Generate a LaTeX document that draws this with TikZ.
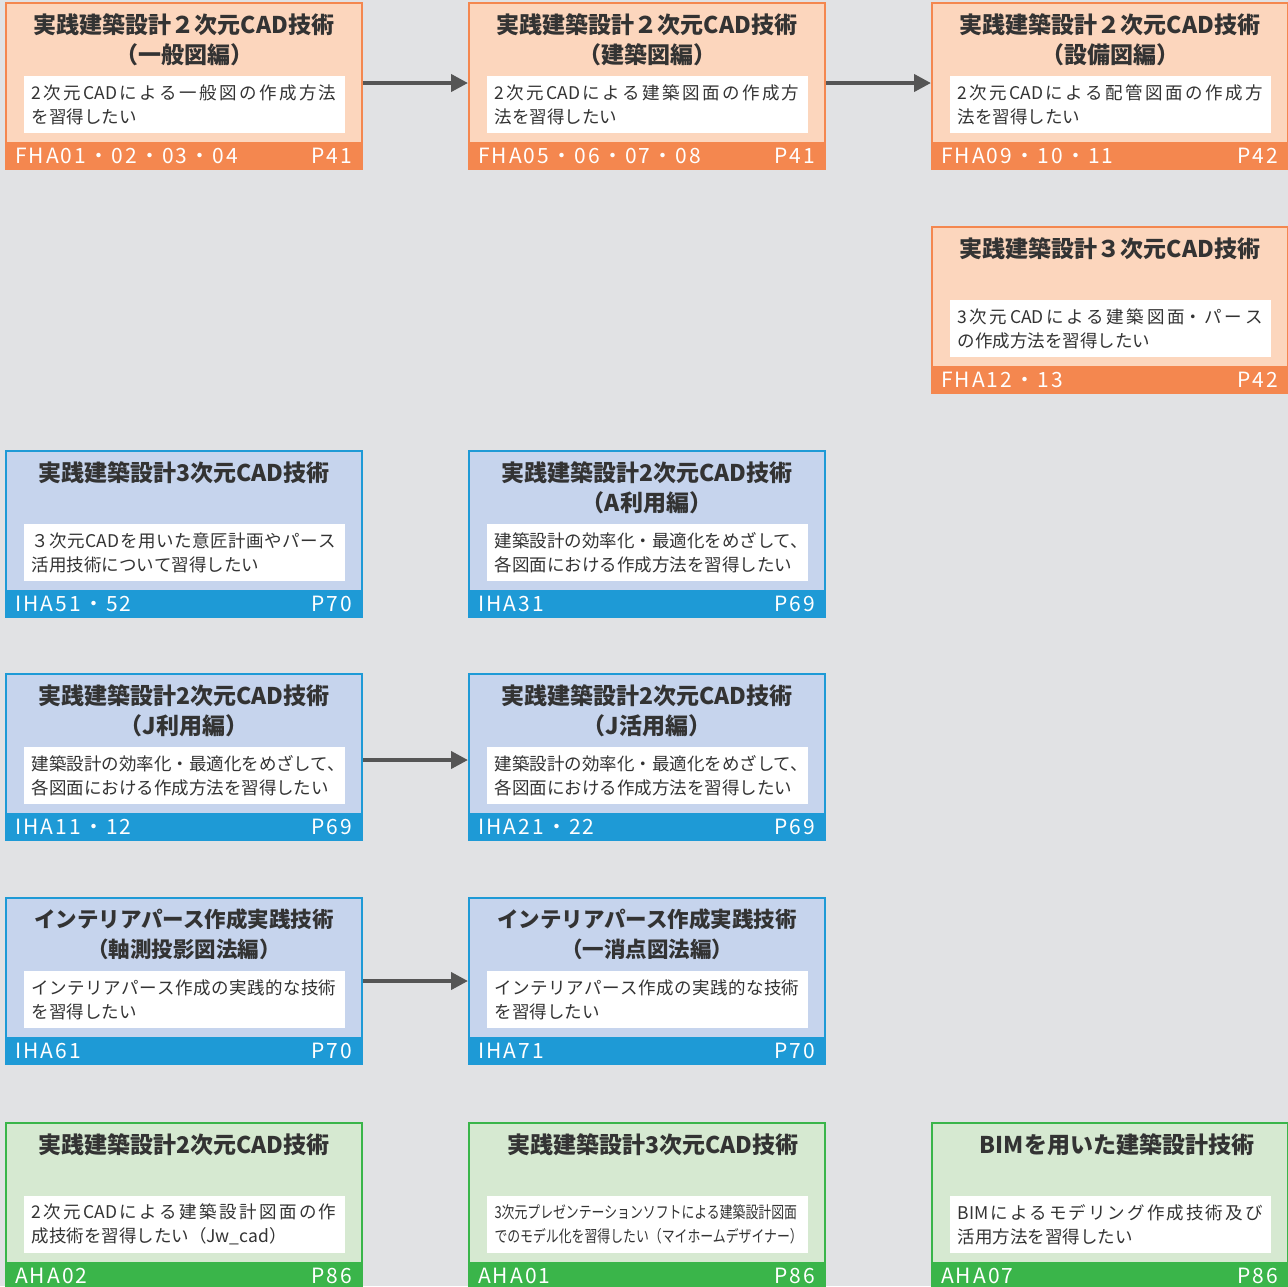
\documentclass[tikz,border=0pt]{standalone}
\usepackage{fontspec}
\setmainfont{Noto Sans CJK JP}
\newfontfamily\narrowfont[FakeStretch=0.78]{Noto Sans CJK JP}
\newfontfamily\barfont[LetterSpace=10]{Noto Sans CJK JP}
\usepackage{xcolor}
\usetikzlibrary{positioning, arrows.meta}

\XeTeXlinebreaklocale "ja"
\XeTeXlinebreakskip=0pt plus 6pt
\tolerance=10000
\hbadness=10000
\hfuzz=20pt

\definecolor{bgGray}{HTML}{E1E2E4}
\definecolor{fhOrange}{HTML}{F4874F}
\definecolor{fhLight}{HTML}{FCD6BD}
\definecolor{ihBlue}{HTML}{1E9AD6}
\definecolor{ihLight}{HTML}{C6D4ED}
\definecolor{ahGreen}{HTML}{3AB54A}
\definecolor{ahLight}{HTML}{D6E9D1}
\definecolor{textDark}{HTML}{333333}
\definecolor{arrowGray}{HTML}{555555}

\begin{document}
\begin{tikzpicture}[x=1pt, y=1pt]

			% --- STYLES ---
			\tikzstyle{card} = [rectangle, minimum width=356pt, minimum height=166pt, line width=2pt, inner sep=0pt]
			\tikzstyle{fhcard} = [card, draw=fhOrange, fill=fhLight]
			\tikzstyle{ihcard} = [card, draw=ihBlue, fill=ihLight]
			\tikzstyle{ahcard} = [card, draw=ahGreen, fill=ahLight]
			\tikzstyle{bar} = [rectangle, minimum width=358pt, minimum height=28pt, inner sep=0pt, anchor=south]
			\tikzstyle{fhbar} = [bar, fill=fhOrange]
			\tikzstyle{ihbar} = [bar, fill=ihBlue]
			\tikzstyle{ahbar} = [bar, fill=ahGreen]
			\tikzstyle{cardtitle} = [anchor=north, align=center, inner sep=0pt, text=textDark, font=\bfseries\fontsize{23}{30}\selectfont]
			\tikzstyle{kanatitle} = [cardtitle, font=\bfseries\fontsize{21.5}{30}\selectfont]
			\tikzstyle{cardtext} = [anchor=north, fill=white, minimum width=321pt, minimum height=57pt, text width=305pt, inner xsep=8pt, inner ysep=0pt, align=justify, text=textDark, font=\fontsize{17.5}{24}\selectfont]
			\tikzstyle{barcode} = [anchor=west, inner sep=0pt, text=white, font=\barfont\fontsize{21}{21}\selectfont]
			\tikzstyle{barpage} = [anchor=east, inner sep=0pt, text=white, font=\barfont\fontsize{21}{21}\selectfont]
			\tikzstyle{arrow} = [line width=4pt, draw=arrowGray, -{Triangle[length=17pt, width=17pt]}]

			% --- CANVAS ---
			\useasboundingbox (0,0) rectangle (1288,-1286);
			\fill [bgGray] (0,0) rectangle (1288,-1286);

			% --- ROW 1 (FHA) ---
			\node (fha01) [fhcard] at (184,-86) {};
			\node (fha01title) [cardtitle] at ([yshift=-11pt]fha01.north) {実践建築設計２次元CAD技術\\（一般図編）};
			\node (fha01text) [cardtext] at ([yshift=-74pt]fha01.north) {2次元CADによる一般図の作成方法\linebreak を習得したい};
			\node (fha01bar) [fhbar] at (fha01.south) {};
			\node (fha01code) [barcode] at ([xshift=10pt]fha01bar.west) {FHA01・02・03・04};
			\node (fha01page) [barpage] at ([xshift=-11pt]fha01bar.east) {P41};

			\node (fha05) [fhcard, right=105pt of fha01] {};
			\node (fha05title) [cardtitle] at ([yshift=-11pt]fha05.north) {実践建築設計２次元CAD技術\\（建築図編）};
			\node (fha05text) [cardtext] at ([yshift=-74pt]fha05.north) {2次元CADによる建築図面の作成方\linebreak 法を習得したい};
			\node (fha05bar) [fhbar] at (fha05.south) {};
			\node (fha05code) [barcode] at ([xshift=10pt]fha05bar.west) {FHA05・06・07・08};
			\node (fha05page) [barpage] at ([xshift=-11pt]fha05bar.east) {P41};

			\node (fha09) [fhcard, right=105pt of fha05] {};
			\node (fha09title) [cardtitle] at ([yshift=-11pt]fha09.north) {実践建築設計２次元CAD技術\\（設備図編）};
			\node (fha09text) [cardtext] at ([yshift=-74pt]fha09.north) {2次元CADによる配管図面の作成方\linebreak 法を習得したい};
			\node (fha09bar) [fhbar] at (fha09.south) {};
			\node (fha09code) [barcode] at ([xshift=10pt]fha09bar.west) {FHA09・10・11};
			\node (fha09page) [barpage] at ([xshift=-11pt]fha09bar.east) {P42};

			% --- ROW 2 (FHA 3D) ---
			\node (fha12) [fhcard, below=56pt of fha09] {};
			\node (fha12title) [cardtitle] at ([yshift=-11pt]fha12.north) {実践建築設計３次元CAD技術};
			\node (fha12text) [cardtext] at ([yshift=-74pt]fha12.north) {3次元CADによる建築図面・パース\linebreak の作成方法を習得したい};
			\node (fha12bar) [fhbar] at (fha12.south) {};
			\node (fha12code) [barcode] at ([xshift=10pt]fha12bar.west) {FHA12・13};
			\node (fha12page) [barpage] at ([xshift=-11pt]fha12bar.east) {P42};

			% --- ROW 3 (IHA) ---
			\node (iha51) [ihcard, below=280pt of fha01] {};
			\node (iha51title) [cardtitle] at ([yshift=-11pt]iha51.north) {実践建築設計3次元CAD技術};
			\node (iha51text) [cardtext] at ([yshift=-74pt]iha51.north) {３次元CADを用いた意匠計画やパース\linebreak 活用技術について習得したい};
			\node (iha51bar) [ihbar] at (iha51.south) {};
			\node (iha51code) [barcode] at ([xshift=10pt]iha51bar.west) {IHA51・52};
			\node (iha51page) [barpage] at ([xshift=-11pt]iha51bar.east) {P70};

			\node (iha31) [ihcard, right=105pt of iha51] {};
			\node (iha31title) [cardtitle] at ([yshift=-11pt]iha31.north) {実践建築設計2次元CAD技術\\（A利用編）};
			\node (iha31text) [cardtext] at ([yshift=-74pt]iha31.north) {\mbox{建築設計の効率化・最適化をめざして、}\linebreak 各図面における作成方法を習得したい};
			\node (iha31bar) [ihbar] at (iha31.south) {};
			\node (iha31code) [barcode] at ([xshift=10pt]iha31bar.west) {IHA31};
			\node (iha31page) [barpage] at ([xshift=-11pt]iha31bar.east) {P69};

			% --- ROW 4 (IHA J) ---
			\node (iha11) [ihcard, below=55pt of iha51] {};
			\node (iha11title) [cardtitle] at ([yshift=-11pt]iha11.north) {実践建築設計2次元CAD技術\\（J利用編）};
			\node (iha11text) [cardtext] at ([yshift=-74pt]iha11.north) {\mbox{建築設計の効率化・最適化をめざして、}\linebreak 各図面における作成方法を習得したい};
			\node (iha11bar) [ihbar] at (iha11.south) {};
			\node (iha11code) [barcode] at ([xshift=10pt]iha11bar.west) {IHA11・12};
			\node (iha11page) [barpage] at ([xshift=-11pt]iha11bar.east) {P69};

			\node (iha21) [ihcard, right=105pt of iha11] {};
			\node (iha21title) [cardtitle] at ([yshift=-11pt]iha21.north) {実践建築設計2次元CAD技術\\（J活用編）};
			\node (iha21text) [cardtext] at ([yshift=-74pt]iha21.north) {\mbox{建築設計の効率化・最適化をめざして、}\linebreak 各図面における作成方法を習得したい};
			\node (iha21bar) [ihbar] at (iha21.south) {};
			\node (iha21code) [barcode] at ([xshift=10pt]iha21bar.west) {IHA21・22};
			\node (iha21page) [barpage] at ([xshift=-11pt]iha21bar.east) {P69};

			% --- ROW 5 (IHA interior) ---
			\node (iha61) [ihcard, below=56pt of iha11] {};
			\node (iha61title) [kanatitle] at ([yshift=-12pt]iha61.north) {インテリアパース作成実践技術\\（軸測投影図法編）};
			\node (iha61text) [cardtext] at ([yshift=-74pt]iha61.north) {インテリアパース作成の実践的な技術\linebreak を習得したい};
			\node (iha61bar) [ihbar] at (iha61.south) {};
			\node (iha61code) [barcode] at ([xshift=10pt]iha61bar.west) {IHA61};
			\node (iha61page) [barpage] at ([xshift=-11pt]iha61bar.east) {P70};

			\node (iha71) [ihcard, right=105pt of iha61] {};
			\node (iha71title) [kanatitle] at ([yshift=-12pt]iha71.north) {インテリアパース作成実践技術\\（一消点図法編）};
			\node (iha71text) [cardtext] at ([yshift=-74pt]iha71.north) {インテリアパース作成の実践的な技術\linebreak を習得したい};
			\node (iha71bar) [ihbar] at (iha71.south) {};
			\node (iha71code) [barcode] at ([xshift=10pt]iha71bar.west) {IHA71};
			\node (iha71page) [barpage] at ([xshift=-11pt]iha71bar.east) {P70};

			% --- ROW 6 (AHA) ---
			\node (aha02) [ahcard, below=57pt of iha61] {};
			\node (aha02title) [cardtitle] at ([yshift=-11pt]aha02.north) {実践建築設計2次元CAD技術};
			\node (aha02text) [cardtext] at ([yshift=-74pt]aha02.north) {2次元CADによる建築設計図面の作\linebreak 成技術を習得したい（Jw\_cad）};
			\node (aha02bar) [ahbar] at (aha02.south) {};
			\node (aha02code) [barcode] at ([xshift=10pt]aha02bar.west) {AHA02};
			\node (aha02page) [barpage] at ([xshift=-11pt]aha02bar.east) {P86};

			\node (aha01) [ahcard, right=105pt of aha02] {};
			\node (aha01title) [cardtitle] at ([xshift=6pt, yshift=-11pt]aha01.north) {実践建築設計3次元CAD技術};
			\node (aha01text) [cardtext, font=\narrowfont\fontsize{16.5}{24}\selectfont] at ([yshift=-74pt]aha01.north) {\mbox{3次元プレゼンテーションソフトによる建築設計図面}\linebreak \mbox{でのモデル化を習得したい（マイホームデザイナー）}};
			\node (aha01bar) [ahbar] at (aha01.south) {};
			\node (aha01code) [barcode] at ([xshift=10pt]aha01bar.west) {AHA01};
			\node (aha01page) [barpage] at ([xshift=-11pt]aha01bar.east) {P86};

			\node (aha07) [ahcard, right=105pt of aha01] {};
			\node (aha07title) [cardtitle] at ([xshift=7pt, yshift=-11pt]aha07.north) {BIMを用いた建築設計技術};
			\node (aha07text) [cardtext] at ([yshift=-74pt]aha07.north) {BIMによるモデリング作成技術及び\linebreak 活用方法を習得したい};
			\node (aha07bar) [ahbar] at (aha07.south) {};
			\node (aha07code) [barcode] at ([xshift=10pt]aha07bar.west) {AHA07};
			\node (aha07page) [barpage] at ([xshift=-11pt]aha07bar.east) {P86};

			% --- ARROWS ---
			\draw [arrow] ([yshift=3pt]fha01.east) -- ([yshift=3pt]fha05.west);
			\draw [arrow] ([yshift=3pt]fha05.east) -- ([yshift=3pt]fha09.west);
			\draw [arrow] ([yshift=-3pt]iha11.east) -- ([yshift=-3pt]iha21.west);
			\draw [arrow] (iha61) -- (iha71);

		\end{tikzpicture}
\end{document}
